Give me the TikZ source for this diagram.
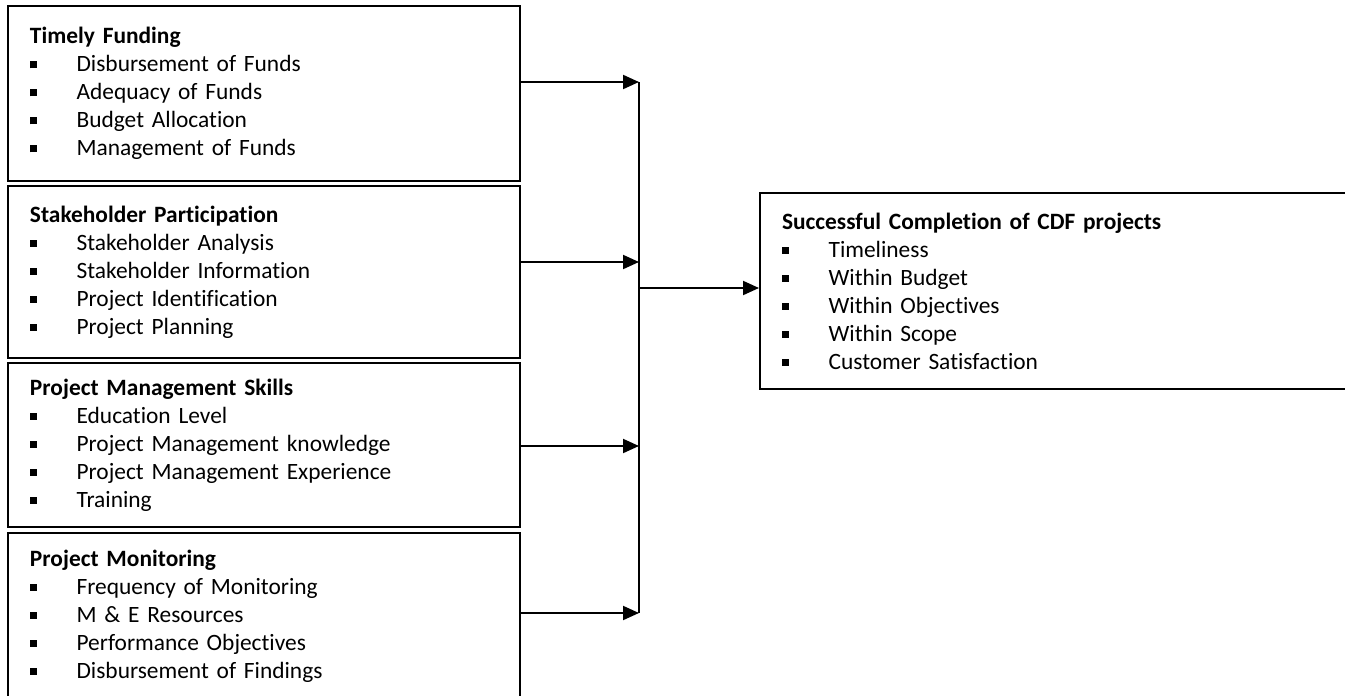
\documentclass[tikz,border=0pt]{standalone}
\usepackage{fontspec}
\setmainfont{Carlito}[Ligatures=NoCommon]
\usepackage{tikz}
\usetikzlibrary{arrows.meta, positioning}

\newcommand{\sqbullet}{\raisebox{1.7pt}{\rule{3.4pt}{3.4pt}}}
\newcommand{\bitem}[1]{\\\makebox[23.3pt][l]{\sqbullet}#1}

\begin{document}
\begin{tikzpicture}[
    x=0.5pt, y=-0.5pt,
    factor/.style={rectangle, draw, line width=1pt, anchor=north west, align=left,
        text width=234pt, inner xsep=11pt, inner ysep=0pt,
        font=\fontsize{11.7}{14}\selectfont},
    outcome/.style={factor, text width=273.5pt},
    arrow/.style={-{Triangle[length=8pt, width=7pt]}, line width=1pt},
    bar/.style={line width=0.8pt},
]
\useasboundingbox (0,0) rectangle (1345,696);

% independent variables
\node[factor, minimum height=87.5pt] at (7,5) (b1) {\textbf{Timely Funding}
    \bitem{Disbursement of Funds}
    \bitem{Adequacy of Funds}
    \bitem{Budget Allocation}
    \bitem{Management of Funds}};
\node[factor, minimum height=86pt, below right=1.5pt and 0pt of b1.south west] (b2) {\textbf{Stakeholder Participation}
    \bitem{Stakeholder Analysis}
    \bitem{Stakeholder Information}
    \bitem{Project Identification}
    \bitem{Project Planning}};
\node[factor, minimum height=82pt, below right=1.5pt and 0pt of b2.south west] (b3) {\textbf{Project Management Skills}
    \bitem{Education Level}
    \bitem{Project Management knowledge}
    \bitem{Project Management Experience}
    \bitem{Training}};
\node[factor, minimum height=83pt, below right=2pt and 0pt of b3.south west] (b4) {\textbf{Project Monitoring}
    \bitem{Frequency of Monitoring}
    \bitem{M \& E Resources}
    \bitem{Performance Objectives}
    \bitem{Disbursement of Findings}};

% dependent variable
\node[outcome, minimum height=98pt, minimum width=295.5pt] at (759,192) (res) {\textbf{Successful Completion of CDF projects}
    \bitem{Timeliness}
    \bitem{Within Budget}
    \bitem{Within Objectives}
    \bitem{Within Scope}
    \bitem{Customer Satisfaction}};

% junction bar
\coordinate (t1) at (639,82);
\coordinate (t2) at (639,262);
\coordinate (t3) at (639,446);
\coordinate (t4) at (639,613);
\coordinate (tm) at (639,288);

\draw[arrow] (b1.east |- t1) -- (t1);
\draw[arrow] (b2.east |- t2) -- (t2);
\draw[arrow] (b3.east |- t3) -- (t3);
\draw[arrow] (b4.east |- t4) -- (t4);
\draw[bar] (t1) -- (t4);
\draw[arrow] (tm) -- (tm -| res.west);
\end{tikzpicture}
\end{document}
